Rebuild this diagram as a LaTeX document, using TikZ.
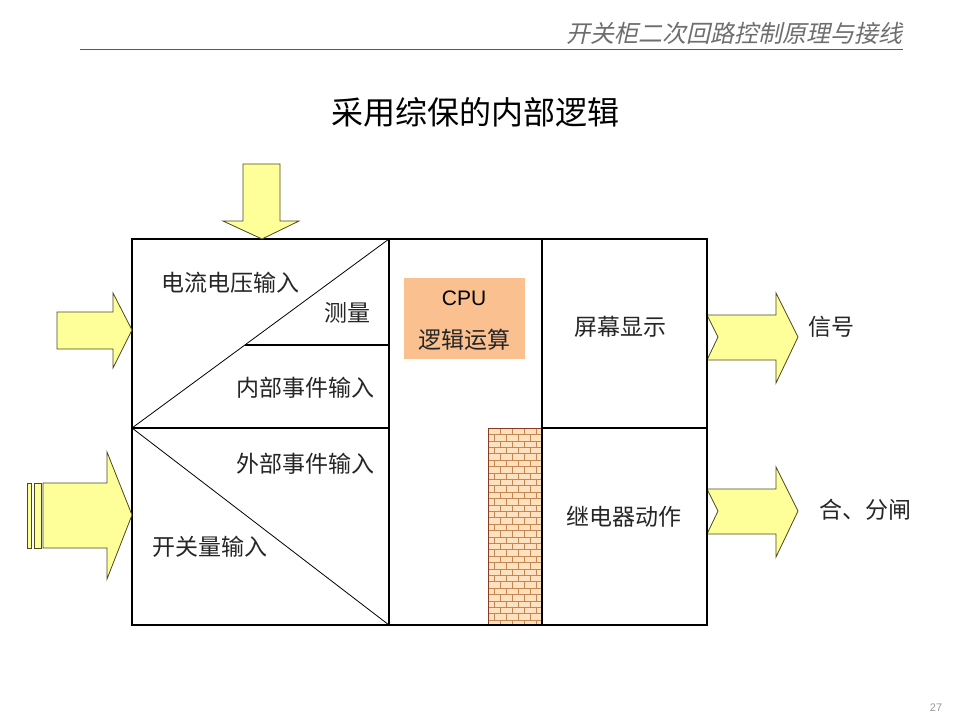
\documentclass[tikz,border=0pt]{standalone}
\usepackage{fontspec}
\setmainfont{Liberation Sans}
\newfontfamily\cjk{Noto Sans CJK SC}
\newfontfamily\cjkit[FakeSlant=0.22]{Noto Sans CJK SC}
\definecolor{arrfill}{HTML}{FFFF99}
\definecolor{arrline}{HTML}{4A4A20}
\definecolor{cpufill}{HTML}{FAC090}
\definecolor{hdrline}{HTML}{B0303E}
\definecolor{hdrtext}{HTML}{6E6E6E}
\definecolor{brickbg}{HTML}{FCE2C0}
\definecolor{brickln}{HTML}{C8864E}
\definecolor{brickbd}{HTML}{8A3A20}
\begin{document}
\begin{tikzpicture}[x=1pt,y=-1pt,
  lbl/.style={font=\cjk\fontsize{23}{25}\selectfont, inner sep=0pt, text=black!85},
  frame/.style={draw=black, line width=1.1pt},
  thin/.style={draw=black, line width=0.8pt},
  fatarrow/.style={fill=arrfill, draw=arrline, line width=0.8pt, line join=miter}]
\useasboundingbox (0,0) rectangle (960,720);
\fill[white] (0,0) rectangle (960,720);

% header
\node[anchor=east, font=\cjkit\fontsize{24}{26}\selectfont, text=hdrtext, inner sep=0pt] (hdr) at (903,33) {开关柜二次回路控制原理与接线};
\coordinate (hl) at (80,49);
\coordinate (hr) at (903,49);
\draw[hdrline, line width=0.9pt] (hl) -- (hr);

% title
\node[font=\cjk\fontsize{32}{34}\selectfont, inner sep=0pt] (title) at (475,112) {采用综保的内部逻辑};

% brick area
\begin{scope}
\clip (488,428) rectangle (542,625);
\fill[brickbg] (488,428) rectangle (542,625);
\foreach \i in {0,...,31}{
  \draw[brickln, line width=0.5pt] (488,{428+\i*6.4}) -- (542,{428+\i*6.4});
  \foreach \j in {-1,...,5}{
    \draw[brickln, line width=0.5pt] ({488+\j*12+mod(\i,2)*6},{428+\i*6.4}) -- ++(0,6.4);
  }
}
\end{scope}
\draw[brickbd, line width=0.8pt] (488,428) rectangle (542,625);

% main box
\coordinate (A) at (132,239);
\coordinate (B) at (707,625);
\draw[frame] (A) rectangle (B);
\draw[frame] (389,239) -- (389,625);
\draw[frame] (542,239) -- (542,625);
\draw[frame] (542,428) -- (707,428);
\draw[frame] (132,428) -- (389,428);
\draw[frame] (245,345) -- (389,345);
\draw[thin] (132,428) -- (389,239);
\draw[thin] (132,428) -- (389,625);

% CPU box
\node[fill=cpufill, minimum width=121pt, minimum height=81pt, inner sep=0pt] (cpu) at (464.5,318.5) {};
\node[font=\fontsize{21}{23}\selectfont, inner sep=0pt] (cpuname) at (464,298) {CPU};
\node[lbl] (logic) at (464,340) {逻辑运算};

% labels
\node[lbl] (t1) at (230,283) {电流电压输入};
\node[lbl] (t2) at (347,313) {测量};
\node[lbl] (t3) at (305,388) {内部事件输入};
\node[lbl] (t4) at (305,464) {外部事件输入};
\node[lbl] (t5) at (210,547) {开关量输入};
\node[lbl] (t6) at (620,327) {屏幕显示};
\node[lbl] (t7) at (624,517) {继电器动作};
\node[lbl] (t8) at (831,327) {信号};
\node[lbl] (t9) at (865,510) {合、分闸};

% top arrow
\draw[fatarrow] (243,164) -- (280,164) -- (280,221) -- (299,221) -- (262,239) -- (223,221) -- (243,221) -- cycle;
% left upper arrow
\draw[fatarrow] (57,312) -- (113,312) -- (113,293) -- (132,330) -- (113,368) -- (113,349) -- (57,349) -- cycle;
% left lower striped arrow
\draw[fatarrow] (27,483) rectangle (31,548);
\draw[fatarrow] (34,483) rectangle (41,548);
\draw[fatarrow] (43,483) -- (107,483) -- (107,452) -- (132,515) -- (107,579) -- (107,548) -- (43,548) -- cycle;
% right notched arrows
\draw[fatarrow] (707,315) -- (776,315) -- (776,293) -- (798,337) -- (776,383) -- (776,360) -- (707,360) -- (718,337) -- cycle;
\draw[fatarrow] (707,489) -- (776,489) -- (776,467) -- (798,511) -- (776,557) -- (776,534) -- (707,534) -- (718,511) -- cycle;
\draw[frame] (707,239) -- (707,625);

% page number
\node[font=\fontsize{11}{12}\selectfont, text=black!40, inner sep=0pt] (pg) at (936,708) {27};
\end{tikzpicture}
\end{document}
